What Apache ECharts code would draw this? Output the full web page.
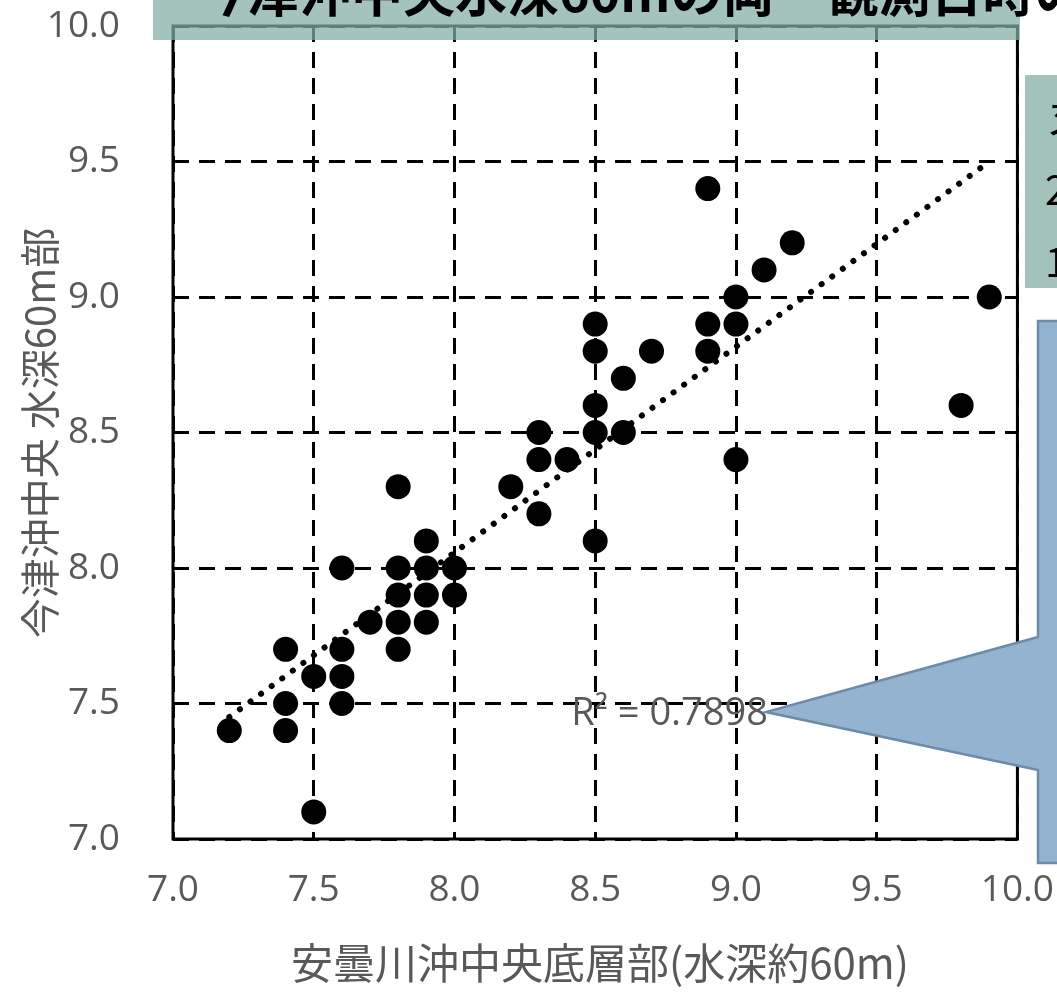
<!DOCTYPE html>
<html>
<head>
<meta charset="utf-8">
<script src="https://cdn.jsdelivr.net/npm/echarts@6/dist/echarts.min.js"></script>
<style>
  html, body { margin: 0; padding: 0; background: #fff; }
  #chart { width: 1057px; height: 992px; }
</style>
</head>
<body>
<div id="chart"></div>
<script>
// 安曇川沖中央底層部 (x) と 今津沖中央 水深60m部 (y)
const xVals = [7.2, 7.4, 7.4, 7.4, 7.5, 7.5, 7.6, 7.6, 7.6, 7.6, 7.7,
  7.8, 7.8, 7.8, 7.8, 7.8, 7.9, 7.9, 7.9, 7.9, 8.0, 8.0,
  8.2, 8.3, 8.3, 8.3, 8.4, 8.5, 8.5, 8.5, 8.5, 8.5, 8.6, 8.6, 8.7,
  8.9, 8.9, 8.9, 9.0, 9.0, 9.0, 9.1, 9.2, 9.8, 9.9];
const yVals = [7.4, 7.7, 7.5, 7.4, 7.6, 7.1, 8.0, 7.7, 7.6, 7.5, 7.8,
  8.3, 8.0, 7.9, 7.8, 7.7, 8.1, 8.0, 7.9, 7.8, 8.0, 7.9,
  8.3, 8.5, 8.4, 8.2, 8.4, 8.9, 8.8, 8.6, 8.5, 8.1, 8.7, 8.5, 8.8,
  9.4, 8.9, 8.8, 9.0, 8.9, 8.4, 9.1, 9.2, 8.6, 9.0];
const axisTicks = [7.0, 7.5, 8.0, 8.5, 9.0, 9.5, 10.0];
const r2Label = 'R² = 0.7898';
const titleText = '今津沖中央水深60mの両　観測日時の';
const xName = '安曇川沖中央底層部(水深約60m)';
const yName = '今津沖中央 水深60m部';

const points = xVals.map((x, i) => [x, yVals[i]]);

// 線形近似（最小二乗）
const n = xVals.length;
const mx = xVals.reduce((a, b) => a + b, 0) / n;
const my = yVals.reduce((a, b) => a + b, 0) / n;
let sxy = 0, sxx = 0;
xVals.forEach((x, i) => { sxy += (x - mx) * (yVals[i] - my); sxx += (x - mx) * (x - mx); });
const slope = sxy / sxx;
const icpt = my - slope * mx;
const xMin = Math.min(...xVals), xMax = Math.max(...xVals);
const trend = [[xMin, icpt + slope * xMin], [xMax, icpt + slope * xMax]];

const chart = echarts.init(document.getElementById('chart'));

const gridLine = { show: true, lineStyle: { color: '#000', width: 3, type: [16, 10] } };
const tickLabel = {
  fontFamily: 'Open Sans', fontSize: 37, color: '#595959',
  formatter: v => v.toFixed(1)
};

chart.setOption({
  animation: false,
  grid: { left: 173, right: 38, top: 26, bottom: 153, show: true, borderColor: '#000', borderWidth: 3 },
  xAxis: {
    type: 'value', min: axisTicks[0], max: axisTicks[axisTicks.length - 1], interval: 0.5,
    axisLine: { show: false }, axisTick: { show: false },
    axisLabel: Object.assign({ margin: 33 }, tickLabel),
    splitLine: gridLine
  },
  yAxis: {
    type: 'value', min: axisTicks[0], max: axisTicks[axisTicks.length - 1], interval: 0.5,
    axisLine: { show: false },
    axisTick: { show: true, inside: true, length: 8, lineStyle: { color: '#000', width: 3 } },
    axisLabel: Object.assign({ margin: 53 }, tickLabel),
    splitLine: gridLine
  },
  series: [
    {
      type: 'line', data: trend, showSymbol: false, symbol: 'none', z: 3,
      lineStyle: { color: '#000', width: 6, type: [0.1, 13], cap: 'round' }
    },
    {
      type: 'scatter', data: points, symbol: 'circle', symbolSize: 25, z: 4,
      itemStyle: { color: '#000', opacity: 1 }
    }
  ],
  graphic: [
    {
      type: 'rect', z: 100, shape: { x: 153, y: 0, width: 867, height: 40 },
      style: { fill: 'rgba(130,173,164,0.73)' }
    },
    {
      type: 'text', z: 101, x: 195, y: 18,
      style: { text: titleText, font: 'bold 52px "Noto Sans CJK JP"', fill: '#000', verticalAlign: 'bottom' }
    },
    {
      type: 'rect', z: 100, shape: { x: 1025, y: 75, width: 40, height: 213 },
      style: { fill: '#a3c2ba' }
    },
    {
      type: 'text', z: 101, x: 1045, y: 82,
      style: { text: 'ヌ\n2\n1', font: '40px "Noto Sans CJK JP"', lineHeight: 72, fill: '#000' }
    },
    {
      type: 'polygon', z: 100,
      shape: { points: [[1038, 321], [1070, 321], [1070, 863], [1038, 863], [1038, 770], [766, 712], [1038, 637]] },
      style: { fill: '#93b3d0', stroke: '#6d8aa6', lineWidth: 2.5 }
    },
    {
      type: 'text', z: 99, x: 768, y: 714,
      style: { text: r2Label, font: '38px "Open Sans"', fill: '#595959', align: 'right', verticalAlign: 'middle' }
    },
    {
      type: 'text', z: 99, x: 600, y: 963,
      style: { text: xName, font: '42px "Noto Sans CJK JP"', fill: '#595959', align: 'center', verticalAlign: 'middle' }
    },
    {
      type: 'text', z: 99, x: 40, y: 433, rotation: Math.PI / 2,
      style: { text: yName, font: '40px "Noto Sans CJK JP"', fill: '#595959', align: 'center', verticalAlign: 'middle' }
    }
  ]
});
</script>
</body>
</html>
